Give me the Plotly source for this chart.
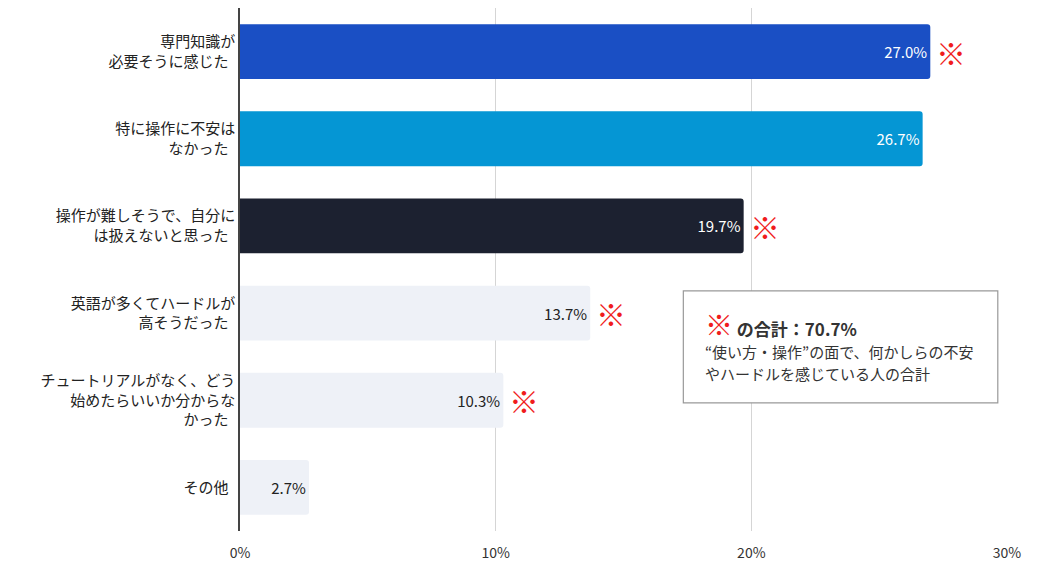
import plotly.graph_objects as go

categories = ["専門知識が<br>必要そうに感じた", "特に操作に不安は<br>なかった", "操作が難しそうで、自分に<br>は扱えないと思った",
              "英語が多くてハードルが<br>高そうだった", "チュートリアルがなく、どう<br>始めたらいいか分からな<br>かった", "その他"]
values = [27.0, 26.7, 19.7, 13.7, 10.3, 2.7]
marked = [True, False, True, True, True, False]
colors = ["#1a4fc4", "#0596d4", "#1c2130", "#eef1f7", "#eef1f7", "#eef1f7"]
text_colors = ["white", "white", "white", "#222", "#222", "#222"]
tick_vals = [0, 10, 20, 30]
tick_text = ["0%", "10%", "20%", "30%"]

F = "Noto Sans CJK JP"
fig = go.Figure(go.Bar(
    x=values, y=categories, orientation="h",
    marker=dict(color=colors, line=dict(width=0)), width=0.63,
    text=[f"{v:.1f}%" for v in values], textposition="inside", insidetextanchor="end",
    textfont=dict(family=F, size=15, color=text_colors), cliponaxis=False,
))
annotations = []
for c, v, m in zip(categories, values, marked):
    if m:
        annotations.append(dict(x=v, y=c, xref="x", yref="y", text="<b>※</b>", showarrow=False,
                                xanchor="left", xshift=4, font=dict(family=F, size=30, color="#f01c1c")))
annotations.append(dict(
    x=0.603, y=0.437, xref="paper", yref="paper", xanchor="left", yanchor="top", align="left",
    text="<span style='color:#f01c1c;font-size:28px'><b>※</b></span> <b>の合計：70.7%</b>"
         "<br><span style='font-size:15px'>“使い方・操作”の面で、何かしらの不安<br>やハードルを感じている人の合計</span>",
    showarrow=False, font=dict(family=F, size=17, color="#333")))

fig.update_layout(
    width=1042, height=585, margin=dict(l=232, r=43, t=0, b=62),
    plot_bgcolor="white", paper_bgcolor="white", showlegend=False, barcornerradius=3,
    font=dict(family=F, size=15, color="#222"),
    xaxis=dict(range=[0, 30], tickvals=tick_vals, ticktext=tick_text, showgrid=True,
               gridcolor="#d5d5d5", zeroline=False, ticklabelstandoff=12,
               tickfont=dict(size=14, color="#333")),
    yaxis=dict(autorange="reversed", showline=True, linecolor="#444", linewidth=1.5,
               ticks="", ticksuffix="  ", tickfont=dict(size=15, color="#222")),
    shapes=[dict(type="rect", xref="paper", yref="paper", x0=0.578, x1=0.988, y0=0.245, y1=0.459,
                 line=dict(color="#999", width=1.2), fillcolor="white", layer="above")],
    annotations=annotations,
)
fig.write_html("out.html")
